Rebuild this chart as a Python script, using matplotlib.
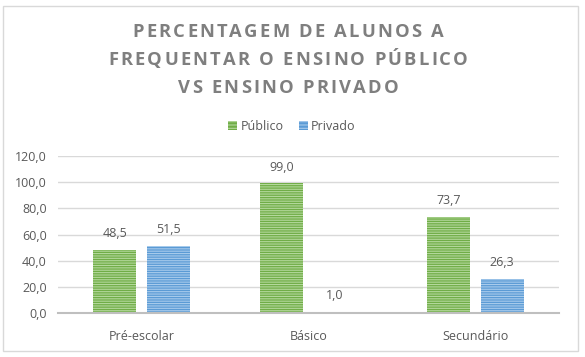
import matplotlib
matplotlib.use('Agg')
import matplotlib.pyplot as plt
from matplotlib.patches import Rectangle, Patch
import numpy as np

categories = ['Pré-escolar', 'Básico', 'Secundário']
publico = [48.5, 99.0, 73.7]
privado = [51.5, 1.0, 26.3]
series_names = ['Público', 'Privado']
yticks = [0, 20, 40, 60, 80, 100, 120]
title_lines = ['PERCENTAGEM DE ALUNOS A', 'FREQUENTAR O ENSINO PÚBLICO', 'VS ENSINO PRIVADO']

green, green_lt = '#70AD47', '#B4D89C'
blue, blue_lt = '#5B9BD5', '#A8CBEC'
txt = '#595959'

plt.rcParams['font.family'] = ['Open Sans', 'DejaVu Sans']
plt.rcParams['hatch.linewidth'] = 0.8

fig = plt.figure(figsize=(5.85, 3.57), dpi=100)
fig.patch.set_facecolor('white')
fig.patches.append(Rectangle((3 / 585, 1 - 351 / 357), 575 / 585, 345 / 357,
                             transform=fig.transFigure, fill=False,
                             edgecolor='#D9D9D9', linewidth=1))

ax = fig.add_axes([58 / 585, 1 - 313 / 357, 501 / 585, 157 / 357])
x = np.arange(len(categories))
w = 0.257
off = 0.159
b1 = ax.bar(x - off, publico, w, color=green, edgecolor=green_lt, linewidth=0, hatch='-------', zorder=2)
b2 = ax.bar(x + off, privado, w, color=blue, edgecolor=blue_lt, linewidth=0, hatch='-------', zorder=2)

for bars, vals in ((b1, publico), (b2, privado)):
    for r, v in zip(bars, vals):
        ax.annotate(f'{v:.1f}'.replace('.', ','), (r.get_x() + r.get_width() / 2, v),
                    xytext=(0, 7), textcoords='offset points', ha='center', va='bottom',
                    fontsize=9, color=txt)

ax.set_xlim(-0.5, 2.5)
ax.set_ylim(0, 120)
ax.set_yticks(yticks)
ax.set_yticklabels([f'{t:.1f}'.replace('.', ',') for t in yticks], fontsize=9, color=txt)
ax.set_xticks(x)
ax.set_xticklabels(categories, fontsize=9, color=txt)
ax.tick_params(length=0)
ax.tick_params(axis='x', pad=12)
ax.tick_params(axis='y', pad=8)
ax.grid(axis='y', color='#D9D9D9', linewidth=1, zorder=0)
for s in ['top', 'right', 'left']:
    ax.spines[s].set_visible(False)
ax.spines['bottom'].set_color('#BFBFBF')
ax.spines['bottom'].set_linewidth(1.5)
ax.set_facecolor('none')

# title with letter spacing: place each character separately
renderer = fig.canvas.get_renderer()
tkw = dict(fontsize=13.2, fontweight='bold', color='#7F7F7F')


def text_w(s):
    t = fig.text(0, 0, s, **tkw)
    wd = t.get_window_extent(renderer).width
    t.remove()
    return wd


bar_w = text_w('||')
advs = [[text_w('|' + ch + '|') - bar_w for ch in line] for line in title_lines]
# spacing chosen so the widest line spans about 360 px, as in the picture
spacing = (360 - sum(advs[1])) / (len(title_lines[1]) - 1)
baselines = [37, 65, 93]
for line, adv, yb in zip(title_lines, advs, baselines):
    total = sum(adv) + spacing * (len(line) - 1)
    xpos = 288 - total / 2
    for ch, a in zip(line, adv):
        if ch != ' ':
            fig.text(xpos / 585, 1 - yb / 357, ch, ha='left', va='baseline', **tkw)
        xpos += a + spacing

handles = [Patch(facecolor=green, edgecolor=green_lt, linewidth=0, hatch='-----'),
           Patch(facecolor=blue, edgecolor=blue_lt, linewidth=0, hatch='-----')]
fig.legend(handles, series_names, loc='center', bbox_to_anchor=(292 / 585, 1 - 126 / 357),
           ncol=2, frameon=False, fontsize=9, labelcolor=txt, handlelength=0.7,
           handleheight=0.7, handletextpad=0.3, columnspacing=1.2)

fig.savefig('out.png', dpi=100)
